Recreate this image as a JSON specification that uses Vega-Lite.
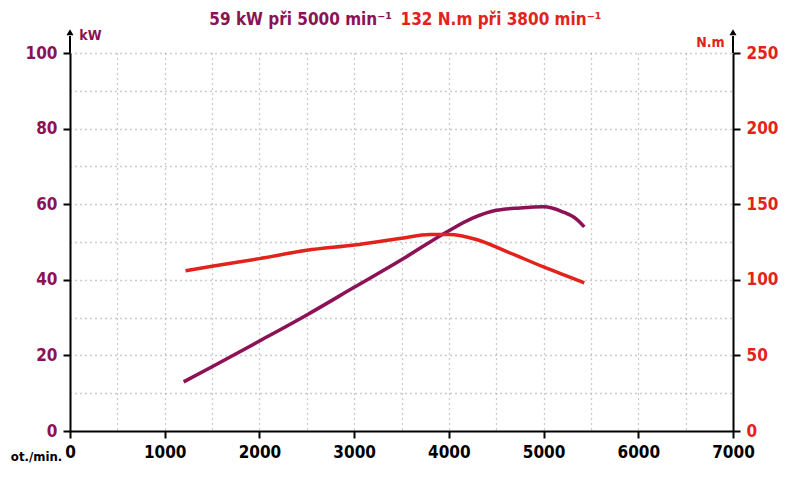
{
  "$schema": "https://vega.github.io/schema/vega-lite/v6.json",
  "width": 663,
  "height": 378,
  "autosize": {"type": "none"},
  "padding": {"left": 70, "top": 53, "right": 67, "bottom": 51},
  "background": "white",
  "config": {
    "view": {"stroke": null},
    "font": "DejaVu Sans Condensed",
    "axis": {"labelFont": "DejaVu Sans Condensed", "titleFont": "DejaVu Sans Condensed", "labelFlush": false}
  },
  "datasets": {
    "power": [
      {"rpm": 1200, "kw": 13.0},
      {"rpm": 1500, "kw": 17.0},
      {"rpm": 2000, "kw": 23.8},
      {"rpm": 2500, "kw": 30.7},
      {"rpm": 3000, "kw": 38.0},
      {"rpm": 3500, "kw": 45.3},
      {"rpm": 4000, "kw": 53.0},
      {"rpm": 4250, "kw": 56.3},
      {"rpm": 4500, "kw": 58.4},
      {"rpm": 4750, "kw": 59.0},
      {"rpm": 5000, "kw": 59.3},
      {"rpm": 5200, "kw": 58.0},
      {"rpm": 5350, "kw": 56.0},
      {"rpm": 5430, "kw": 54.0}
    ],
    "torque": [
      {"rpm": 1220, "nm": 106},
      {"rpm": 1500, "nm": 109},
      {"rpm": 2000, "nm": 114},
      {"rpm": 2500, "nm": 119.5},
      {"rpm": 3000, "nm": 123},
      {"rpm": 3500, "nm": 127.5},
      {"rpm": 3800, "nm": 130},
      {"rpm": 4000, "nm": 130},
      {"rpm": 4300, "nm": 126.5},
      {"rpm": 4600, "nm": 119},
      {"rpm": 5000, "nm": 108.5},
      {"rpm": 5430, "nm": 98}
    ],
    "axisEnds": [{"rpm": 0, "kw": 100, "kw2": 104.5, "tip": 105.5}, {"rpm": 7000, "kw": 100, "kw2": 104.5, "tip": 105.5}],
    "headline": [
      {"rpm": 3400, "kw": 108.7, "label": "59 kW při 5000 min⁻¹", "series": "power"},
      {"rpm": 3490, "kw": 108.7, "label": "132 N.m při 3800 min⁻¹", "series": "torque"}
    ]
  },
  "encoding": {
    "x": {
      "field": "rpm", "type": "quantitative",
      "scale": {"domain": [0, 7000], "nice": false},
      "axis": {
        "values": [0, 500, 1000, 1500, 2000, 2500, 3000, 3500, 4000, 4500, 5000, 5500, 6000, 6500, 7000],
        "labelExpr": "datum.value % 1000 === 0 ? datum.value : ''",
        "labelFlush": false,
        "tickOpacity": {"condition": {"test": "datum.value % 1000 === 0", "value": 1}, "value": 0},
        "tickSize": 7, "tickWidth": 2, "tickColor": "black",
        "domainColor": "black", "domainWidth": 2,
        "labelFontSize": 17, "labelFontWeight": "bold", "labelColor": "black", "labelPadding": 6,
        "grid": true, "gridDash": [1, 4], "gridColor": "#9a9a9a", "gridWidth": 1.3,
        "gridOpacity": {"condition": {"test": "datum.value === 0 || datum.value === 7000", "value": 0}, "value": 1},
        "title": "ot./min.", "titleFontSize": 13, "titleFontWeight": "bold", "titleColor": "black",
        "titleX": -34, "titleY": 25, "titleAlign": "center", "titleBaseline": "middle"
      }
    }
  },
  "layer": [
    {
      "encoding": {
        "y": {
          "field": "kw", "type": "quantitative",
          "scale": {"domain": [0, 100], "nice": false},
          "axis": {
            "values": [0, 10, 20, 30, 40, 50, 60, 70, 80, 90, 100],
            "labelExpr": "datum.value % 20 === 0 ? datum.value : ''",
            "labelFlush": false,
            "tickOpacity": {"condition": {"test": "datum.value % 20 === 0", "value": 1}, "value": 0},
            "tickSize": 7, "tickWidth": 2, "tickColor": "black",
            "domainColor": "black", "domainWidth": 2,
            "labelFontSize": 17, "labelFontWeight": "bold", "labelColor": "#8C1155", "labelPadding": 6,
            "grid": true, "gridDash": [1, 4], "gridColor": "#9a9a9a", "gridWidth": 1.3,
            "gridOpacity": {"condition": {"test": "datum.value === 0", "value": 0}, "value": 1},
            "title": "kW", "titleFontSize": 14, "titleFontWeight": "bold", "titleColor": "#8C1155",
            "titleAngle": 0, "titleX": 20, "titleY": -18, "titleAlign": "center", "titleBaseline": "middle"
          }
        }
      },
      "layer": [
        {
          "data": {"name": "power"},
          "mark": {"type": "line", "color": "#8C1155", "strokeWidth": 3.5, "interpolate": "monotone"}
        },
        {
          "data": {"name": "axisEnds"},
          "mark": {"type": "rule", "color": "black", "strokeWidth": 2},
          "encoding": {"y2": {"field": "kw2"}}
        },
        {
          "data": {"name": "axisEnds"},
          "mark": {"type": "point", "shape": "triangle-up", "filled": true, "color": "black", "size": 50, "opacity": 1},
          "encoding": {"y": {"field": "tip", "type": "quantitative"}}
        },
        {
          "data": {"name": "headline"},
          "transform": [{"filter": "datum.series === 'power'"}],
          "mark": {"type": "text", "color": "#8C1155", "fontSize": 17, "fontWeight": "bold", "align": "right", "baseline": "middle"},
          "encoding": {"text": {"field": "label"}}
        },
        {
          "data": {"name": "headline"},
          "transform": [{"filter": "datum.series === 'torque'"}],
          "mark": {"type": "text", "color": "#E3231B", "fontSize": 17, "fontWeight": "bold", "align": "left", "baseline": "middle"},
          "encoding": {"text": {"field": "label"}}
        }
      ]
    },
    {
      "data": {"name": "torque"},
      "mark": {"type": "line", "color": "#E3231B", "strokeWidth": 3.5, "interpolate": "monotone"},
      "encoding": {
        "y": {
          "field": "nm", "type": "quantitative",
          "scale": {"domain": [0, 250], "nice": false},
          "axis": {
            "orient": "right",
            "values": [0, 50, 100, 150, 200, 250],
            "labelFlush": false,
            "tickSize": 7, "tickWidth": 2, "tickColor": "black",
            "domainColor": "black", "domainWidth": 2,
            "labelFontSize": 17, "labelFontWeight": "bold", "labelColor": "#E3231B", "labelPadding": 6,
            "grid": false,
            "title": "N.m", "titleFontSize": 14, "titleFontWeight": "bold", "titleColor": "#E3231B",
            "titleAngle": 0, "titleX": -23, "titleY": -11, "titleAlign": "center", "titleBaseline": "middle"
          }
        }
      }
    }
  ],
  "resolve": {"scale": {"y": "independent"}}
}
